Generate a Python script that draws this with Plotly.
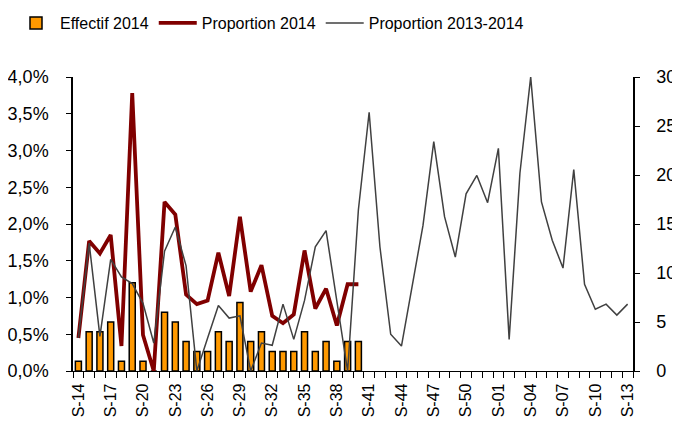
import plotly.graph_objects as go

weeks = [f"S-{w:02d}" for w in list(range(14, 53)) + list(range(1, 14))]

effectif_2014 = [1, 4, 4, 5, 1, 9, 1, 0, 6, 5, 3, 2, 2, 4, 3, 7, 3, 4, 2, 2, 2, 4, 2, 3, 1, 3, 3]

proportion_2014 = [0.45, 1.77, 1.60, 1.85, 0.34, 3.78, 0.49, 0.00, 2.30, 2.13, 1.04, 0.91,
                   0.96, 1.61, 1.02, 2.10, 1.08, 1.44, 0.75, 0.65, 0.77, 1.64, 0.85, 1.12,
                   0.62, 1.18, 1.18]

proportion_2013_2014 = [0.45, 1.74, 0.47, 1.52, 1.28, 1.19, 0.92, 0.38, 1.63, 1.96, 1.43, 0.00,
                        0.45, 0.89, 0.72, 0.75, 0.00, 0.38, 0.35, 0.91, 0.43, 0.96, 1.69, 1.91,
                        0.95, 0.00, 2.19, 3.52, 1.69, 0.50, 0.34, 1.19, 1.98, 3.12, 2.10, 1.55,
                        2.41, 2.66, 2.29, 3.03, 0.43, 2.69, 4.00, 2.30, 1.78, 1.40, 2.74, 1.18,
                        0.84, 0.91, 0.76, 0.91]

left_ticks = [0, 0.5, 1, 1.5, 2, 2.5, 3, 3.5, 4]
left_tick_labels = ["0,0%", "0,5%", "1,0%", "1,5%", "2,0%", "2,5%", "3,0%", "3,5%", "4,0%"]
right_ticks = [0, 5, 10, 15, 20, 25, 30]

idx = list(range(len(weeks)))
label_idx = idx[::3]
label_text = [weeks[i] for i in label_idx]

FONT = "Arial, Liberation Sans, sans-serif"
W, H = 672, 412

fig = go.Figure()
fig.add_trace(go.Bar(
    x=idx[:len(effectif_2014)], y=effectif_2014, name="Effectif 2014",
    marker=dict(color="#FF9900", line=dict(color="black", width=1.5)),
    width=0.56, yaxis="y",
))
fig.add_trace(go.Scatter(
    x=idx[:len(proportion_2014)], y=proportion_2014, name="Proportion 2014",
    mode="lines", line=dict(color="#800000", width=3.8), yaxis="y2",
))
fig.add_trace(go.Scatter(
    x=idx, y=proportion_2013_2014, name="Proportion 2013-2014",
    mode="lines", line=dict(color="#404040", width=1.5), yaxis="y2",
))

fig.update_layout(
    width=W, height=H,
    margin=dict(l=65, r=47, t=69, b=49, autoexpand=False),
    paper_bgcolor="white", plot_bgcolor="white",
    font=dict(family=FONT, size=18, color="black"),
    showlegend=True,
    legend=dict(orientation="h", xref="container", yref="container",
                x=4 / W, xanchor="left", y=1 - 15 / H, yanchor="middle",
                font=dict(size=16), traceorder="normal", itemwidth=38),
    xaxis=dict(
        range=[-0.5, len(weeks) - 0.5], automargin=False,
        tickmode="array", tickvals=label_idx, ticktext=label_text,
        tickangle=-90, ticks="", showline=True, linecolor="black", linewidth=1.3,
        showgrid=False, zeroline=False, ticklabelstandoff=5,
        tickfont=dict(size=16),
        minor=dict(tickmode="linear", tick0=-0.5, dtick=1, ticks="outside",
                   ticklen=6, tickcolor="black", tickwidth=1.3, showgrid=False),
    ),
    yaxis=dict(
        side="right", range=[0, 30], tickmode="array", tickvals=right_ticks,
        ticks="outside", ticklen=5, tickwidth=1.3, tickcolor="black", automargin=False,
        showline=True, linecolor="black", linewidth=1.5, showgrid=False,
        zeroline=False, ticklabelstandoff=13,
    ),
    yaxis2=dict(
        side="left", overlaying="y", range=[0, 4], tickmode="array",
        tickvals=left_ticks, ticktext=left_tick_labels, automargin=False,
        ticks="outside", ticklen=5, tickwidth=1.3, tickcolor="black",
        showline=True, linecolor="black", linewidth=1.5, showgrid=False,
        zeroline=False, ticklabelstandoff=14,
    ),
)

fig.write_html("out.html")
